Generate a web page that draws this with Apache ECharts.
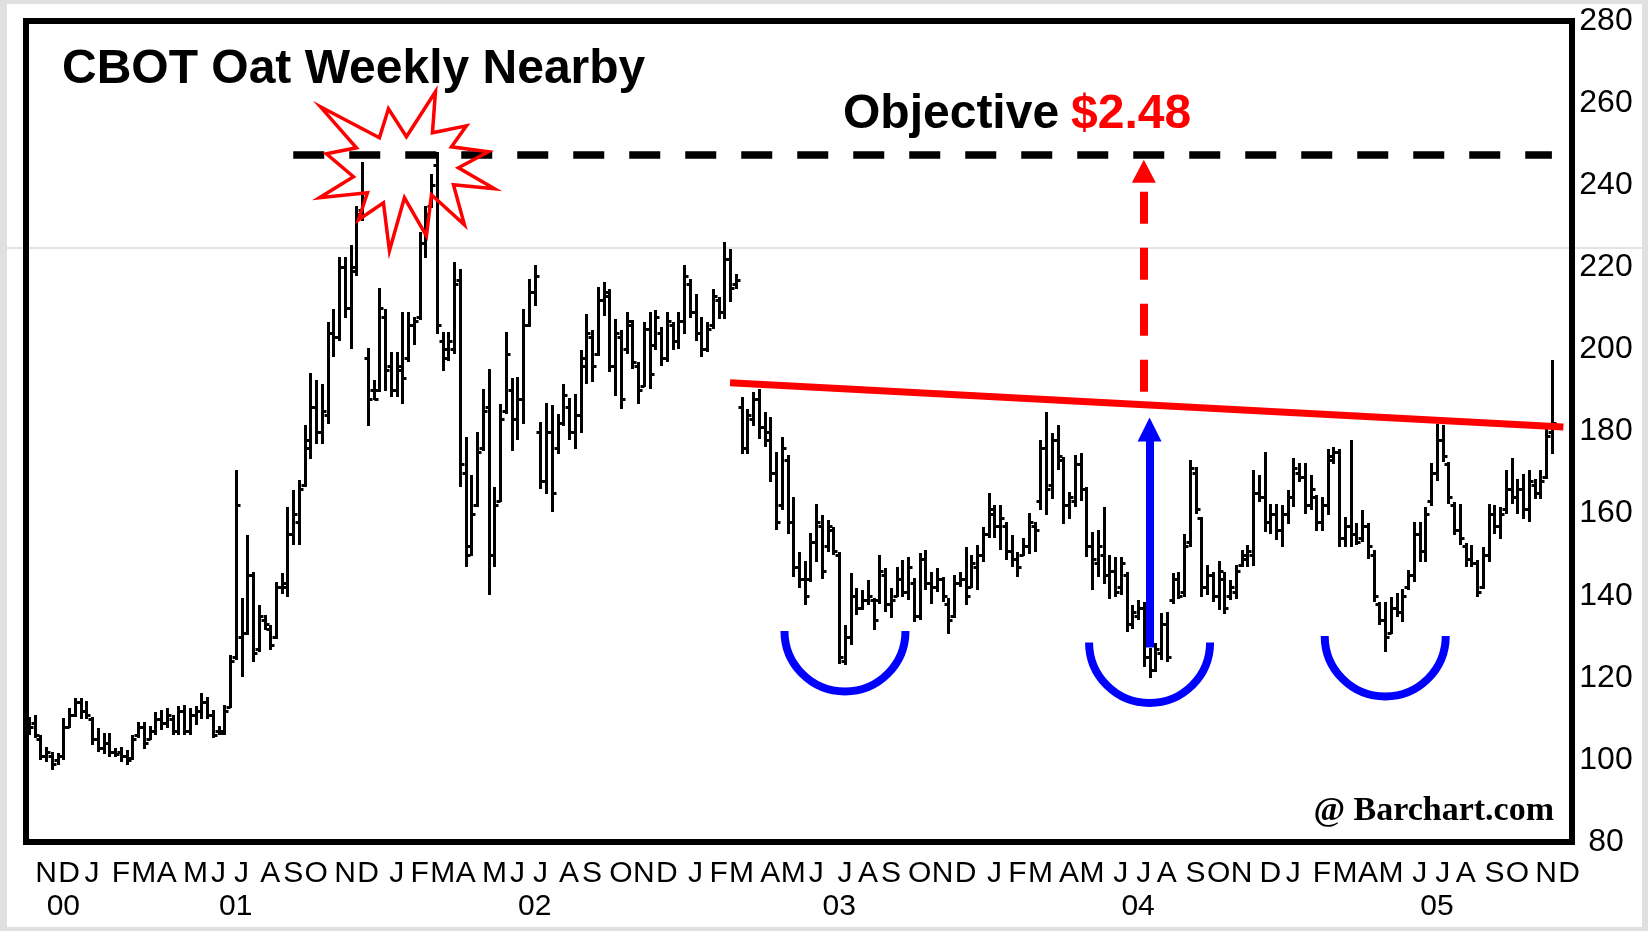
<!DOCTYPE html>
<html>
<head>
<meta charset="utf-8">
<title>CBOT Oat Weekly Nearby</title>
<script src="https://cdn.jsdelivr.net/npm/echarts@6/dist/echarts.min.js"></script>
<style>
  html, body { margin: 0; padding: 0; background: #e0e0e0; }
  #chart { width: 1648px; height: 931px; }
</style>
</head>
<body>
<div id="chart"></div>
<script>
// weekly bars, one per week starting Monday 2000-10-16 (cents per bushel)
const firstWeek = Date.UTC(2000, 9, 16);
const weekCount = 269;

const opens = [
  108,109,105,101,101,100,101,108,111,114,
  112,110,105,103,104,102,102,101,100.5,106,
  108,105,107,110,109,110,107,112,107,111,
  112,114,111,107,107,113,125,130,131,145,
  127,134,132,130,142,142,155,158,167,176,
  186,180,184,204,203,220,210,220,234,198,
  190,190,208,196,190,195,198,206,208,226,
  235,245,202,200,200,217,170,152,162,176,
  186,150,163,185,190,183,188,206,214,180,
  168,180,176,182,186,180,184,196,203,199,
  212,213,196,203,200,206,196,191,205,201,
  204,198,206,202,207,216,209,204,200,206,
  212,209,222,216,186,176,183,188,181,180,
  170,162,173,158,147,144,144,153,157,152,
  156,150,124,130,140,137,139,139,139,145,
  138,140,144,141,143,135,149,143,142,144,
  138,135,143,144,142,147,150,155,160,157,
  157,151,149,150,152,157,163,176,167,178,
  173,162,163,172,166,152,148,150,145,146,
  142,145,133,135,137,125,122,126,133,139,
  144,141,153,170,159,142,145,140,144,140,
  141,147.5,149,150,165,164,158,160,156,160,
  164,170,169,162,164,158,162,174,175,154,
  157,155,154,157,150,138,134,131,137,136,
  142,145,155,151,163,170,178,172,162,156,
  152,149,148,142,150,160,157,161,166,164,
  166,161,167,165,169,180
];
const highs = [
  110.3,110.7,105.9,103,101.8,101.4,109.9,112.4,114.8,114.8,
  114,110.3,107.5,106.3,106.3,102.6,103,102.2,105.9,109.1,
  109.1,107.9,111.5,112,112.4,110.7,112.8,113.2,112.4,112.8,
  116,115.2,112,107.9,113.2,125.3,170.3,139.1,154.5,145.6,
  137.5,135.1,132.6,143.2,145.2,161.4,165.5,168,181.3,193.9,
  192.2,191.4,206.4,209.7,222.3,222.3,225.1,234.8,245.4,200,
  192.2,214.6,209.7,199.1,199.1,208.9,208.9,207.7,228.3,234.8,
  242.5,247.8,204,204,221,219.4,178.5,169.1,179.7,190.2,
  195.1,166.3,186.5,204,192.7,193.1,209.7,217,220.2,182.1,
  186.6,186.2,184.1,191.4,187.8,189,199.5,208.5,204.4,215,
  216.2,214.5,207.2,204.4,208.9,206.8,196.7,206.4,208.9,209.3,
  205.2,208.9,206.4,208.9,220.2,217,213.3,207.7,206.4,214.5,
  212.5,225.9,224.3,218.2,188.2,185.3,189.4,190.2,184.5,183.3,
  174.8,178.5,174,163.7,150.5,148.1,155,162.2,159.4,158.2,
  156.6,150.5,132.6,145.2,141.6,141.2,143.6,139.1,149.7,146.4,
  141.6,146.8,148.5,149.3,144,150.1,150.9,145.6,146.4,144.4,
  139.1,144.8,145.6,151.7,149.7,152.1,156.6,164.7,161.8,161.8,
  157.8,154.5,150.5,153.7,159.8,157.8,177.6,184.5,179.3,181.3,
  173.6,165.1,174,174.4,166.3,155.3,155.7,161.4,149.7,149.3,
  149.3,145.6,137.5,138.7,138.3,127,128.2,135.5,135.9,145.2,
  145.6,154.9,172.8,171.2,159,147.2,145.6,148.1,145.5,143.6,
  147.2,150.9,152.1,170.3,169.1,174.8,162.2,162.2,161.8,165.5,
  173.2,172,172,169.1,164.3,163.9,175.6,176,175.6,159,
  177.6,157.4,160.6,157.4,150.9,138.3,138.3,139.5,140.3,141.5,
  146,157.8,157.8,161.4,172,181.7,181.3,172.4,162.6,162.2,
  152.5,152.1,148.5,151.7,162.2,161.8,161.4,170.3,173.2,168.3,
  169.5,170.3,168.3,170.3,180.5,197.1
];
const lows = [
  106.3,105.5,100.2,99.8,97.7,99,100.2,107.9,110.7,110.3,
  110.3,103.8,102.2,101.8,101,101,99.8,99,100.2,105.5,
  103,105,106.3,107.5,107.9,106.3,106.3,106.3,106.3,108.7,
  110.3,110.3,105.5,106.3,106.3,112.8,124.5,120.5,130.6,124.1,
  126.5,131.8,127,129.8,140.7,140,152.5,152.5,166.7,173.6,
  177.2,177.2,182.1,198.3,202.4,208,200.4,218.2,231.6,181.7,
  187.8,189.8,190.2,188.6,188.6,187,197.1,201.2,207.3,222.6,
  234.8,204,195.1,197.5,199.1,166.7,147.2,150,161.8,175.6,
  140.3,147.2,163.1,184.6,175.6,178.1,182.1,205.6,210.9,166.3,
  165.1,160.6,174.8,181.7,178.1,176,180,191.8,192.2,198.7,
  208.5,194.7,189,185.8,199.1,195.5,187,191,190.6,200,
  196.3,197.1,200,200.4,204,208,202.4,198.3,199.5,205.2,
  207.7,207.7,211.7,215,174.8,174.8,181.7,178.5,176.4,167.9,
  156.2,161,155.3,144.8,142,137.9,143.6,148.5,144.4,150.9,
  150.1,123.7,123.3,128.2,135.5,136.7,137.9,131.8,138.3,136.3,
  134.7,139.9,139.9,139.1,133.9,134.3,141.6,138.3,141.2,138.7,
  131,134.7,142.4,137.9,142,141.6,148.5,154.2,154.2,151.3,
  148.9,147.2,144.8,149.8,150.5,150.9,161,159.8,163.9,170.8,
  157.8,159,161.8,163.4,149.7,141.6,144.8,143.2,139.5,140,
  140.5,131.4,132.2,134.3,122.9,120.1,121.7,124.5,124.1,138.3,
  139.5,140,152,160.2,140,140.3,138.7,136.7,135.9,139.1,
  139.5,147.2,147.2,147.6,163,155.7,155.3,153.7,152.1,157.8,
  161.8,167.9,160.2,161,156.1,156.1,159.8,172.4,152.1,152.1,
  152.1,152.5,153.3,149.3,138.7,133,126.5,131,135.1,133.9,
  141.6,143.6,148.5,148.5,162.2,168.3,172.8,162.6,155,152.5,
  147.2,147.2,139.9,141.9,148.5,155.3,154.1,160.2,162.6,160.2,
  159,158.2,163.9,163.9,168.7,174.8
];
const closes = [
  108,106,101,102,99,101,108,111,114,112,
  111,105,103,104,102,101.5,101,100,105,108,
  104,107,110,109,111,107,112,107,111,112,
  114,111,106,106.5,112,124,162,131,145,126,
  135,133,128,142,143,155,160,166,178,186,
  180,185,204,203,220,210,219,233,238,188,
  188,210,195,190,196,193,206,207,226,233,
  240,206,198,202,216,172,150,160,175,185,
  150,162,183,199,183,188,206,214,218,168,
  180,165,182,189,180,184,198,204,196,212,
  214,196,204,188,207,197,190,205,194,208,
  198,207,202,207,218,209,204,200,205,213,
  209,222,215,217,176,184,188,181,178,170,
  158,176,158,147,144,140,153,158,146,157,
  151,125,130,140,137,139,140,134,146,138,
  139,144,141,147,135,149,143,142,144,140,
  134,143,144,140,148,150,155,161,157,159,
  151,149,147,152,158,156,176,166,178,174,
  162,164,172,166,152,149,152,145,146,141,
  148,133,136,137,125,122,127,133,125,144,
  140,152,171,161,142,145,140,146,137,142,
  146,150,151,165,164,158,160,156,160,164,
  171,169,162,166,158,162,173,175,154,157,
  155,153,157,152,140,134,130,137,136,140,
  145,155,151,160,170,178,174,164,156,154,
  149,148,141,150,160,157,160,166,164,166,
  161,168,165,168,179,182
];

const monthLetters = ['J', 'F', 'M', 'A', 'M', 'J', 'J', 'A', 'S', 'O', 'N', 'D'];
const yearLabels = ['00', '01', '02', '03', '04', '05'];
const yearLabelWeeks = ['2000-11-27', '2001-06-25', '2002-06-24', '2003-06-30', '2004-06-28', '2005-06-27'];
const priceTicks = { min: 80, max: 280, step: 20 };

const objectiveLevel = 248;

const weeks = [];
for (let i = 0; i < weekCount; i++) {
    weeks.push(new Date(firstWeek + i * 7 * 864e5).toISOString().slice(0, 10));
}

const bars = opens.map((o, i) => [i, o, highs[i], lows[i], closes[i]]);

const pixelFont = '"Liberation Sans", Arial, sans-serif';

const renderBar = (params, api) => {
    const k = api.value(0);
    const o = api.coord([k, api.value(1)]);
    const h = api.coord([k, api.value(2)]);
    const l = api.coord([k, api.value(3)]);
    const c = api.coord([k, api.value(4)]);
    const x = Math.round(o[0]) + 0.5;
    const yo = Math.round(o[1]) + 0.5;
    const yc = Math.round(c[1]) + 0.5;
    const style = { stroke: '#000', lineWidth: 3 };
    return {
        type: 'group',
        children: [
            { type: 'line', shape: { x1: x, y1: Math.round(h[1]) - 1, x2: x, y2: Math.round(l[1]) + 1 }, style },
            { type: 'line', shape: { x1: x - 4, y1: yo, x2: x, y2: yo }, style },
            { type: 'line', shape: { x1: x, y1: yc, x2: x + 4, y2: yc }, style }
        ]
    };
};

const chart = echarts.init(document.getElementById('chart'));

const option = {
    animation: false,
    backgroundColor: '#e0e0e0',
    grid: {
        left: 26, right: 76, top: 21, bottom: 89,
        containLabel: false,
        outerBoundsMode: 'none',
        show: true,
        borderColor: '#000',
        borderWidth: 6,
        backgroundColor: 'transparent'
    },
    xAxis: [{
        type: 'category',
        data: weeks,
        position: 'bottom',
        boundaryGap: true,
        axisLine: { show: false },
        axisTick: { show: false },
        splitLine: { show: false },
        axisLabel: {
            interval: (i, v) => Number(v.slice(8, 10)) <= 7,
            formatter: v => monthLetters[Number(v.slice(5, 7)) - 1],
            margin: 32,
            verticalAlign: 'middle',
            align: 'center',
            color: '#000',
            fontFamily: pixelFont,
            fontSize: 30
        }
    }, {
        type: 'category',
        data: weeks,
        position: 'bottom',
        boundaryGap: true,
        axisLine: { show: false },
        axisTick: { show: false },
        splitLine: { show: false },
        axisLabel: {
            interval: (i, v) => yearLabelWeeks.indexOf(v) >= 0,
            formatter: v => yearLabels[yearLabelWeeks.indexOf(v)],
            margin: 65,
            verticalAlign: 'middle',
            align: 'center',
            color: '#000',
            fontFamily: pixelFont,
            fontSize: 30
        }
    }],
    yAxis: {
        type: 'value',
        position: 'right',
        min: priceTicks.min,
        max: priceTicks.max,
        interval: priceTicks.step,
        axisLine: { show: false },
        axisTick: { show: false },
        splitLine: { show: false },
        axisLabel: {
            margin: 34,
            align: 'center',
            color: '#000',
            fontFamily: pixelFont,
            fontSize: 32
        }
    },
    series: [{
        type: 'custom',
        name: 'Oats',
        renderItem: renderBar,
        data: bars,
        encode: { x: 0, y: [1, 2, 3, 4] },
        z: 2,
        markLine: {
            silent: true,
            symbol: 'none',
            label: { show: false },
            z: 5,
            data: [
                // objective level
                [
                    { coord: [46, objectiveLevel - 0.6], lineStyle: { color: '#000', width: 7.5, type: [31, 25] } },
                    { coord: [265, objectiveLevel - 0.6] }
                ],
                // neckline
                [
                    { coord: [122, 191.9], lineStyle: { color: '#ff0000', width: 7, type: 'solid' } },
                    { coord: [267, 181.1] }
                ],
                // projected move
                [
                    { coord: [194, 189.7], symbol: 'none', lineStyle: { color: '#ff0000', width: 8, type: [32, 24] } },
                    { coord: [194, 243.4], symbol: 'triangle', symbolSize: [24, 23], itemStyle: { color: '#ff0000' } }
                ],
                // pattern height
                [
                    { coord: [195, 127.4], symbol: 'none', lineStyle: { color: '#0000ff', width: 8, type: 'solid' } },
                    { coord: [195, 180.5], symbol: 'triangle', symbolSize: [24, 24], itemStyle: { color: '#0000ff' } }
                ]
            ]
        }
    }]
};

chart.setOption(option);

// annotations anchored on the chart's own scales
const toPx = p => chart.convertToPixel({ xAxisIndex: 0, yAxisIndex: 0 }, p);

const bottoms = [[142, 131.4], [195, 128.6], [236, 130.2]];
const burstAt = toPx([65, 244]);
const burst = [
    [-82, -62], [-23, -31], [-14, -60], [4, -32], [33, -77], [30, -36], [64, -43], [49, -22],
    [86, -17], [56, -1], [92, 20], [51, 16], [62, 56], [29, 26], [24, 67], [2, 29],
    [-13, 82], [-19, 34], [-44, 51], [-35, 24], [-83, 29], [-49, 8], [-76, -15], [-46, -21]
].map(p => [burstAt[0] + p[0], burstAt[1] + p[1]]);

const graphic = [
    { type: 'rect', z: -10, shape: { x: 7, y: 4, width: 1635, height: 923 }, style: { fill: '#fff' } },
    { type: 'line', z: -9, shape: { x1: 7, y1: 248, x2: 1642, y2: 248 }, style: { stroke: '#dadada', lineWidth: 1.5 } },
    {
        type: 'text', z: 10, x: 62, y: 70,
        style: { text: 'CBOT Oat Weekly Nearby', fill: '#000', font: 'bold 48px "Liberation Sans", Arial, sans-serif', verticalAlign: 'middle' }
    },
    {
        type: 'text', z: 10, x: 843, y: 115,
        style: { text: 'Objective', fill: '#000', font: 'bold 48px "Liberation Sans", Arial, sans-serif', verticalAlign: 'middle' }
    },
    {
        type: 'text', z: 10, x: 1071, y: 115,
        style: { text: '$2.48', fill: '#ff0000', font: 'bold 48px "Liberation Sans", Arial, sans-serif', verticalAlign: 'middle' }
    },
    {
        type: 'text', z: 10, x: 1554, y: 811,
        style: { text: '@ Barchart.com', fill: '#000', font: 'bold 34px "Liberation Serif", "Times New Roman", serif', align: 'right', verticalAlign: 'middle' }
    },
    {
        type: 'polygon', z: 10, shape: { points: burst },
        style: { fill: 'none', stroke: '#ff0000', lineWidth: 3.5, lineJoin: 'miter' }
    }
];

bottoms.forEach(b => {
    const c = toPx(b);
    graphic.push({
        type: 'arc', z: 10,
        shape: { cx: c[0], cy: c[1], r: 60.5, startAngle: 0, endAngle: Math.PI, clockwise: true },
        style: { fill: 'none', stroke: '#0000ff', lineWidth: 8 }
    });
});

chart.setOption({ graphic });
</script>
</body>
</html>
